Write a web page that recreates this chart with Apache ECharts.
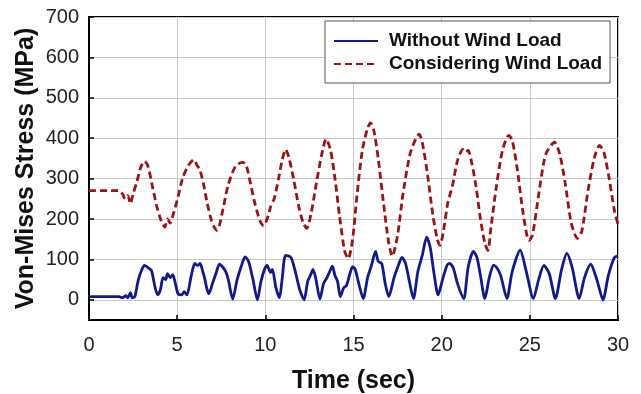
<!DOCTYPE html>
<html>
<head>
<meta charset="utf-8">
<script src="https://cdn.jsdelivr.net/npm/echarts@6/dist/echarts.min.js"></script>
<style>html,body{margin:0;padding:0;background:#fff;}#c{width:641px;height:394px;}</style>
</head>
<body>
<div id="c"></div>
<script>
var seriesNames = ['Without Wind Load', 'Considering Wind Load'];
var xTicks = [0, 5, 10, 15, 20, 25, 30];
var yTicks = [0, 100, 200, 300, 400, 500, 600, 700];

var blueT = [0,1.7,1.9,2.1,2.2,2.35,2.45,2.6,2.8,3.0,3.15,3.4,3.55,3.75,3.9,4.05,4.2,4.35,4.45,4.6,4.75,4.9,5.05,5.25,5.4,5.55,5.8,6.0,6.15,6.3,6.45,6.55,6.7,6.8,7.0,7.2,7.4,7.6,7.75,7.9,8.15,8.4,8.65,8.85,9.05,9.3,9.55,9.75,9.95,10.1,10.3,10.4,10.6,10.8,10.95,11.15,11.45,11.7,11.95,12.2,12.4,12.6,12.7,12.85,13.1,13.3,13.5,13.65,13.8,13.95,14.1,14.25,14.45,14.6,14.8,14.95,15.1,15.3,15.55,15.8,16.0,16.25,16.4,16.6,16.8,17.0,17.3,17.5,17.75,17.95,18.15,18.4,18.65,18.9,19.15,19.35,19.55,19.8,20.05,20.3,20.45,20.65,20.9,21.25,21.5,21.8,22.0,22.2,22.45,22.7,22.95,23.15,23.35,23.7,24.0,24.45,24.8,25.2,25.5,25.8,26.1,26.45,26.8,27.1,27.4,27.8,28.1,28.45,28.8,29.15,29.45,29.8,30];
var blueV = [8,8,5,10,5,18,5,8,50,75,85,78,72,30,12,25,55,50,65,55,62,40,15,12,20,12,60,90,85,90,70,55,25,15,40,65,88,80,70,50,2,50,85,106,95,50,0,45,75,85,68,75,30,5,50,110,105,70,25,0,45,65,75,55,2,40,55,70,83,60,45,8,30,35,65,82,75,40,3,55,82,120,95,90,40,8,55,80,105,90,50,3,70,110,155,130,70,12,50,85,90,80,40,3,80,120,105,60,3,55,86,78,60,3,70,123,70,3,50,85,65,3,75,115,80,3,55,88,50,0,60,105,108];

var redT = [0,1.7,1.9,2.05,2.2,2.35,2.5,2.7,2.95,3.15,3.35,3.6,3.85,4.1,4.3,4.45,4.6,4.8,5.05,5.3,5.6,5.8,5.95,6.1,6.3,6.5,6.7,6.95,7.1,7.25,7.4,7.6,7.9,8.3,8.7,8.9,9.1,9.4,9.7,9.9,10.1,10.3,10.5,10.75,10.95,11.15,11.35,11.6,11.9,12.15,12.35,12.6,12.9,13.2,13.45,13.7,13.95,14.2,14.5,14.7,14.95,15.2,15.5,15.8,15.97,16.15,16.4,16.7,17.0,17.2,17.5,17.8,18.2,18.55,18.72,18.9,19.2,19.5,19.75,19.9,20.1,20.35,20.6,20.9,21.2,21.35,21.5,21.7,21.95,22.2,22.45,22.62,22.8,23.1,23.45,23.8,24.0,24.3,24.6,24.95,25.15,25.5,25.9,26.4,26.7,27.0,27.35,27.7,27.95,28.3,28.65,28.95,29.2,29.5,29.8,30];
var redV = [270,270,262,250,258,238,262,290,330,343,330,280,230,195,180,200,190,215,255,300,330,342,347,335,320,285,240,195,180,172,185,225,285,330,340,335,300,240,195,183,200,230,250,300,345,372,350,300,230,190,177,215,290,360,398,370,300,210,120,102,150,260,370,425,438,420,350,240,140,108,160,260,360,400,410,390,310,210,150,135,170,240,280,345,372,365,370,340,280,200,140,122,180,280,370,407,395,320,220,147,160,260,360,390,360,290,190,152,170,270,350,382,365,300,220,187];

function pairs(t, v) { return t.map(function (x, i) { return [x, v[i]]; }); }

var font = "'Liberation Sans', Arial, sans-serif";
var chart = echarts.init(document.getElementById('c'), null, {renderer: 'canvas'});
chart.setOption({
  animation: false,
  backgroundColor: '#fff',
  grid: {left: 89, right: 23, top: 17, bottom: 74, show: true, borderColor: '#000', borderWidth: 2, containLabel: false, outerBoundsMode: 'none'},
  legend: {
    left: 325, top: 21, orient: 'vertical',
    data: seriesNames,
    borderColor: '#555', borderWidth: 1, backgroundColor: '#fff',
    padding: [10, 8, 9, 8], itemWidth: 44, itemHeight: 14, itemGap: 3,
    itemStyle: {color: 'rgba(0,0,0,0)', borderWidth: 0, opacity: 0},
    textStyle: {fontFamily: font, fontWeight: 'bold', fontSize: 19, color: '#111', lineHeight: 20, padding: [0, 0, 0, 6]}
  },
  xAxis: {
    type: 'value', min: 0, max: 30, interval: 5,
    name: 'Time (sec)', nameLocation: 'middle', nameGap: 49, nameMoveOverlap: false,
    nameTextStyle: {fontFamily: font, fontWeight: 'bold', fontSize: 25, color: '#111'},
    axisLine: {show: true, onZero: false, lineStyle: {color: '#000', width: 2}},
    axisTick: {show: true, inside: true, length: 5, lineStyle: {color: '#000', width: 1.5}},
    axisLabel: {fontFamily: font, fontSize: 20, color: '#222', margin: 15, formatter: function (v) { return xTicks.indexOf(v) >= 0 ? String(v) : ''; }},
    splitLine: {show: true, lineStyle: {color: '#c8c8c8', width: 1}}
  },
  yAxis: {
    type: 'value', min: -50, max: 700,
    name: 'Von-Mises Stress (MPa)', nameLocation: 'middle', nameGap: 50, nameMoveOverlap: false,
    nameTextStyle: {fontFamily: font, fontWeight: 'bold', fontSize: 25, color: '#111'},
    axisLine: {show: true, onZero: false, lineStyle: {color: '#000', width: 2}},
    axisTick: {show: true, inside: true, length: 5, customValues: yTicks, lineStyle: {color: '#000', width: 1.5}},
    axisLabel: {fontFamily: font, fontSize: 20, color: '#222', margin: 10, customValues: yTicks},
    splitLine: {show: true, lineStyle: {color: '#c8c8c8', width: 1}}
  },
  series: [
    {
      name: seriesNames[0], type: 'line', data: pairs(blueT, blueV),
      showSymbol: false, symbol: 'none', smooth: 0.25,
      lineStyle: {color: '#101a8a', width: 2.8}, itemStyle: {color: '#101a8a'}
    },
    {
      name: seriesNames[1], type: 'line', data: pairs(redT, redV),
      showSymbol: false, symbol: 'none', smooth: 0.25,
      lineStyle: {color: '#9a1414', width: 2.8, type: [7, 4]}, itemStyle: {color: '#9a1414'}
    }
  ]
});
</script>
</body>
</html>
